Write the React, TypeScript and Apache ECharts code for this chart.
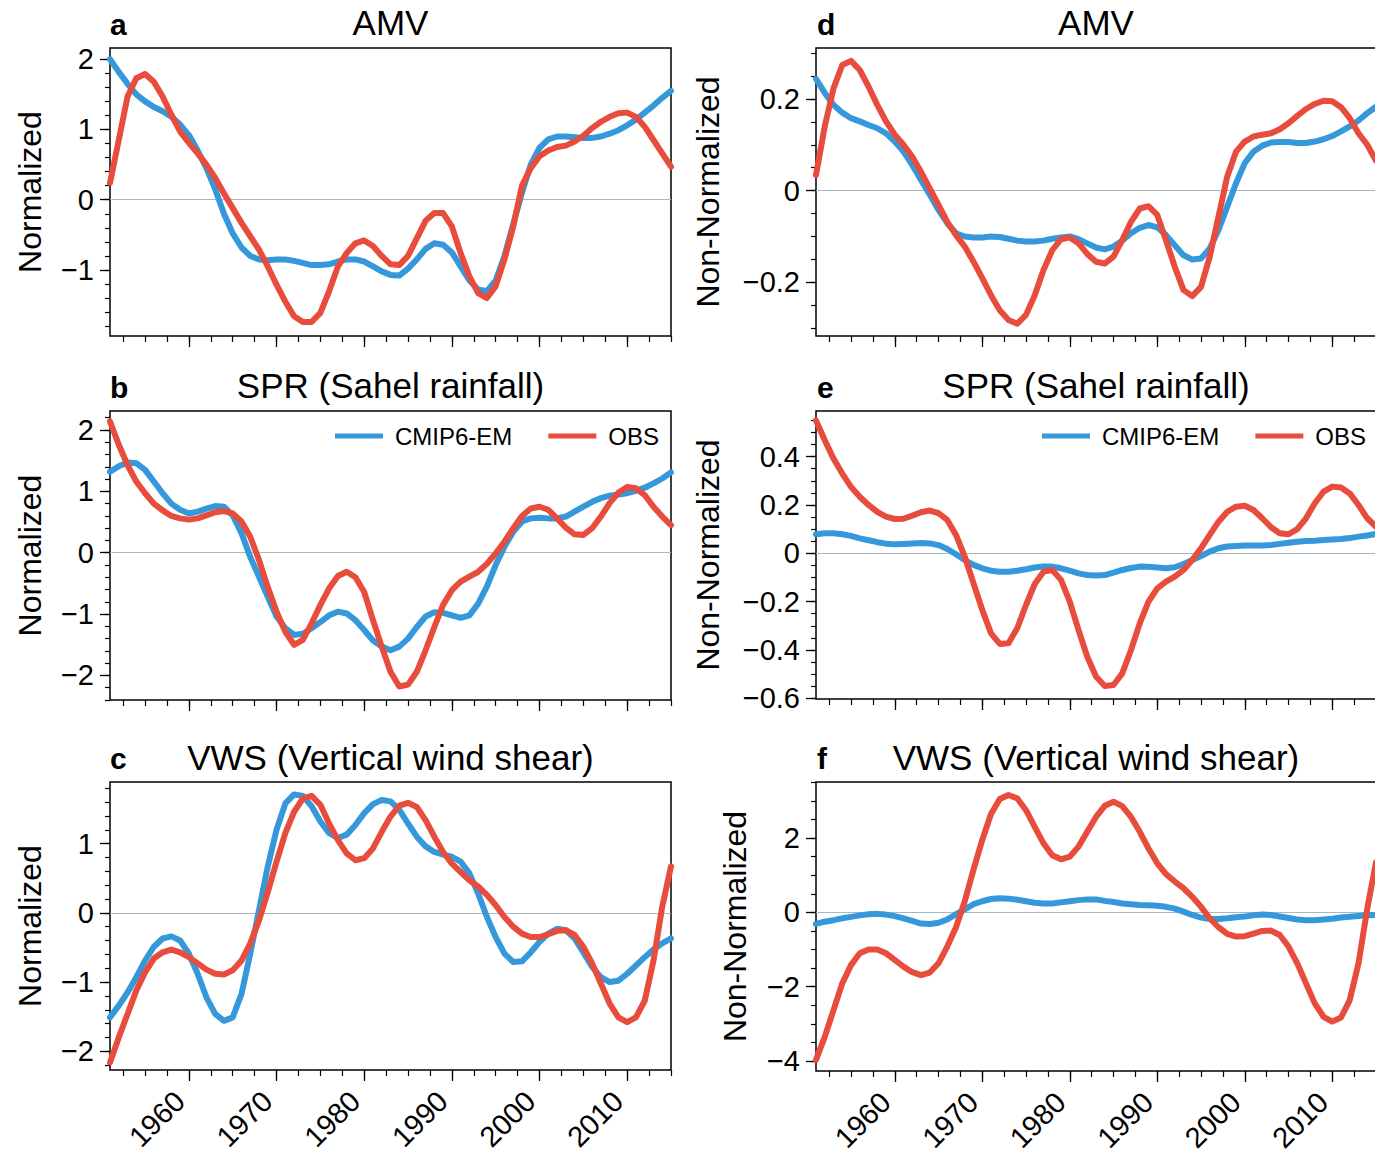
import React, { useEffect, useRef } from "react";
import * as echarts from "echarts";

const FONT = '"Liberation Sans", Arial, Helvetica, sans-serif';
const BLUE = "#3498db";
const RED = "#e74c3c";
const ZERO = "#a9b6c4";

const YEARS = [
  1951, 1952, 1953, 1954, 1955, 1956, 1957, 1958, 1959, 1960,
  1961, 1962, 1963, 1964, 1965, 1966, 1967, 1968, 1969, 1970,
  1971, 1972, 1973, 1974, 1975, 1976, 1977, 1978, 1979, 1980,
  1981, 1982, 1983, 1984, 1985, 1986, 1987, 1988, 1989, 1990,
  1991, 1992, 1993, 1994, 1995, 1996, 1997, 1998, 1999, 2000,
  2001, 2002, 2003, 2004, 2005, 2006, 2007, 2008, 2009, 2010,
  2011, 2012, 2013, 2014, 2015,
];
const X_TICKS = [1960, 1970, 1980, 1990, 2000, 2010];

// a: AMV normalized
const A_CMIP = [
  2.0, 1.82, 1.65, 1.5, 1.4, 1.32, 1.26, 1.18, 1.07, 0.92,
  0.7, 0.45, 0.15, -0.2, -0.48, -0.68, -0.8, -0.85, -0.86, -0.85,
  -0.85, -0.87, -0.9, -0.93, -0.93, -0.92, -0.88, -0.85, -0.85, -0.88,
  -0.95, -1.02, -1.07, -1.08, -0.98, -0.85, -0.7, -0.62, -0.64, -0.75,
  -0.95, -1.15, -1.28, -1.3, -1.15, -0.8, -0.35, 0.1, 0.5, 0.74,
  0.86, 0.9, 0.9, 0.89, 0.88, 0.88, 0.9, 0.94, 0.99, 1.06,
  1.14, 1.24, 1.34, 1.45, 1.55,
];
const A_OBS = [
  0.24, 0.85, 1.47, 1.73, 1.79, 1.68, 1.47, 1.21, 0.97, 0.81,
  0.66, 0.5, 0.31, 0.09, -0.12, -0.33, -0.52, -0.71, -0.95, -1.21,
  -1.45, -1.66, -1.74, -1.74, -1.61, -1.3, -0.95, -0.76, -0.62, -0.58,
  -0.66, -0.8, -0.92, -0.93, -0.8, -0.55, -0.3, -0.19, -0.19, -0.38,
  -0.76, -1.09, -1.33, -1.4, -1.23, -0.85, -0.38, 0.2, 0.45, 0.62,
  0.7, 0.75, 0.77, 0.83, 0.91, 1.02, 1.11, 1.18, 1.23, 1.24,
  1.18, 1.04, 0.85, 0.66, 0.47,
];

// b: SPR normalized
const B_CMIP = [
  1.32, 1.41, 1.47, 1.46, 1.35, 1.16, 0.97, 0.8, 0.7, 0.64,
  0.67, 0.72, 0.76, 0.75, 0.61, 0.32, -0.07, -0.39, -0.72, -1.04,
  -1.23, -1.34, -1.32, -1.23, -1.13, -1.02, -0.96, -0.99, -1.1, -1.26,
  -1.43, -1.53, -1.59, -1.53, -1.4, -1.21, -1.04, -0.97, -0.98, -1.02,
  -1.06, -1.02, -0.83, -0.55, -0.2, 0.1, 0.34, 0.51, 0.56, 0.57,
  0.56, 0.56, 0.59, 0.67, 0.75, 0.83, 0.89, 0.93, 0.95, 0.97,
  1.01, 1.06, 1.13, 1.21, 1.31,
];
const B_OBS = [
  2.14, 1.76, 1.43, 1.16, 0.97, 0.8, 0.69, 0.6, 0.56, 0.54,
  0.56, 0.61, 0.66, 0.68, 0.64, 0.51, 0.26, -0.12, -0.56, -0.96,
  -1.29, -1.5, -1.42, -1.15, -0.85, -0.58, -0.38, -0.31, -0.4, -0.64,
  -1.1, -1.53, -1.94, -2.18, -2.15, -1.94, -1.59, -1.21, -0.85, -0.61,
  -0.47, -0.39, -0.31, -0.18, -0.01, 0.18, 0.4, 0.6, 0.72, 0.75,
  0.7, 0.56, 0.41, 0.3, 0.29, 0.4, 0.59, 0.81, 0.98, 1.07,
  1.05, 0.94, 0.75, 0.59, 0.45,
];

// c: VWS normalized
const C_CMIP = [
  -1.51, -1.34, -1.15, -0.93, -0.69, -0.49, -0.37, -0.34, -0.4, -0.59,
  -0.88, -1.22, -1.46, -1.56, -1.51, -1.17, -0.59, 0.04, 0.67, 1.2,
  1.58, 1.71, 1.69, 1.54, 1.32, 1.15, 1.08, 1.13, 1.27, 1.44,
  1.57, 1.63, 1.61, 1.49, 1.29, 1.1, 0.96, 0.88, 0.84, 0.81,
  0.74, 0.57, 0.28, -0.06, -0.35, -0.59, -0.71, -0.7, -0.57, -0.42,
  -0.3, -0.23, -0.25, -0.37, -0.57, -0.78, -0.93, -1.0, -0.98, -0.88,
  -0.76, -0.64, -0.53, -0.44, -0.37,
];
const C_OBS = [
  -2.16, -1.8, -1.46, -1.12, -0.86, -0.66, -0.57, -0.53, -0.57, -0.64,
  -0.73, -0.82, -0.88, -0.89, -0.83, -0.69, -0.44, -0.11, 0.3, 0.74,
  1.15, 1.46, 1.65, 1.69, 1.56, 1.29, 1.05, 0.86, 0.76, 0.79,
  0.93, 1.17, 1.39, 1.55, 1.59, 1.53, 1.34, 1.1, 0.88, 0.71,
  0.59, 0.47, 0.38, 0.26, 0.11, -0.06, -0.2, -0.3, -0.35, -0.35,
  -0.31, -0.26, -0.25, -0.32, -0.49, -0.73, -1.02, -1.31, -1.51, -1.58,
  -1.51, -1.27, -0.69, 0.09, 0.67,
];

// d: AMV non-normalized
const D_CMIP = [
  0.244, 0.213, 0.187, 0.17, 0.158, 0.151, 0.143, 0.136, 0.125, 0.107,
  0.085, 0.056, 0.023, -0.009, -0.042, -0.071, -0.093, -0.1, -0.102, -0.102,
  -0.1, -0.101, -0.105, -0.109, -0.111, -0.111, -0.109, -0.105, -0.102, -0.1,
  -0.106, -0.115, -0.124, -0.128, -0.122, -0.109, -0.093, -0.081, -0.075, -0.08,
  -0.097, -0.119, -0.141, -0.15, -0.148, -0.126, -0.086, -0.035, 0.016, 0.06,
  0.085, 0.098, 0.105, 0.106, 0.106, 0.104, 0.104, 0.107, 0.112, 0.119,
  0.129, 0.14, 0.153, 0.169, 0.183,
];
const D_OBS = [
  0.034, 0.14, 0.223, 0.274, 0.283, 0.263, 0.227, 0.187, 0.151, 0.122,
  0.1, 0.074, 0.041, 0.005, -0.031, -0.068, -0.097, -0.122, -0.155, -0.191,
  -0.228, -0.261, -0.282, -0.29, -0.271, -0.228, -0.173, -0.13, -0.106, -0.102,
  -0.115, -0.138, -0.155, -0.159, -0.144, -0.108, -0.068, -0.039, -0.034, -0.053,
  -0.108, -0.166, -0.217, -0.23, -0.21, -0.144, -0.057, 0.031, 0.085, 0.107,
  0.118, 0.122, 0.125, 0.134, 0.147, 0.163, 0.178, 0.189, 0.196, 0.195,
  0.182, 0.158, 0.125, 0.1, 0.065,
];

// e: SPR non-normalized
const E_CMIP = [
  0.079, 0.083, 0.083, 0.079, 0.072, 0.062, 0.054, 0.046, 0.04, 0.037,
  0.039, 0.041, 0.043, 0.041, 0.034, 0.018, -0.004, -0.028, -0.048, -0.062,
  -0.072, -0.076, -0.076, -0.072, -0.066, -0.059, -0.055, -0.055, -0.062, -0.072,
  -0.083, -0.09, -0.092, -0.09, -0.08, -0.069, -0.061, -0.055, -0.056, -0.059,
  -0.062, -0.058, -0.044, -0.028, -0.011, 0.007, 0.021, 0.028, 0.03, 0.032,
  0.032, 0.032, 0.034, 0.039, 0.044, 0.048, 0.051, 0.052, 0.055, 0.057,
  0.059, 0.063, 0.069, 0.074, 0.08,
];
const E_OBS = [
  0.55, 0.468, 0.392, 0.33, 0.275, 0.234, 0.2, 0.172, 0.152, 0.142,
  0.143, 0.156, 0.17, 0.177, 0.166, 0.138, 0.076, -0.014, -0.124, -0.234,
  -0.331, -0.375, -0.372, -0.31, -0.214, -0.127, -0.076, -0.069, -0.11, -0.2,
  -0.317, -0.428, -0.51, -0.549, -0.545, -0.497, -0.4, -0.29, -0.2, -0.145,
  -0.117, -0.097, -0.069, -0.028, 0.021, 0.076, 0.131, 0.172, 0.193, 0.197,
  0.179, 0.145, 0.108, 0.083, 0.079, 0.1, 0.145, 0.207, 0.255, 0.276,
  0.272, 0.248, 0.2, 0.145, 0.11,
];

// f: VWS non-normalized
const F_CMIP = [
  -0.31, -0.25, -0.21, -0.16, -0.12, -0.08, -0.05, -0.04, -0.06, -0.1,
  -0.16, -0.23, -0.3, -0.31, -0.28, -0.19, -0.05, 0.08, 0.22, 0.3,
  0.36, 0.38, 0.37, 0.34, 0.3, 0.26, 0.24, 0.24, 0.27, 0.3,
  0.33, 0.35, 0.35, 0.31, 0.28, 0.24, 0.22, 0.2, 0.19, 0.18,
  0.15, 0.1, 0.02, -0.07, -0.14, -0.18, -0.18, -0.16, -0.13, -0.11,
  -0.08, -0.06, -0.07, -0.11, -0.15, -0.19, -0.21, -0.21, -0.19, -0.17,
  -0.14, -0.12, -0.1, -0.08, -0.07,
];
const F_OBS = [
  -3.97, -3.35, -2.63, -1.91, -1.42, -1.1, -1.0, -1.0, -1.1, -1.28,
  -1.46, -1.61, -1.69, -1.62, -1.37, -0.92, -0.4, 0.3, 1.15, 1.95,
  2.65, 3.05, 3.16, 3.07, 2.75, 2.3, 1.86, 1.54, 1.43, 1.5,
  1.77, 2.17, 2.57, 2.87, 2.98, 2.86, 2.57, 2.17, 1.72, 1.32,
  1.03, 0.83, 0.65, 0.42, 0.15, -0.16, -0.4, -0.58, -0.65, -0.64,
  -0.57, -0.5, -0.49, -0.61, -0.92, -1.37, -1.91, -2.45, -2.81, -2.94,
  -2.83, -2.36, -1.37, 0.1, 1.35,
];

const Y_TICKS_A = [-1, 0, 1, 2];
const Y_TICKS_B = [-2, -1, 0, 1, 2];
const Y_TICKS_C = [-2, -1, 0, 1];
const Y_TICKS_D = [-0.2, 0, 0.2];
const Y_TICKS_E = [-0.6, -0.4, -0.2, 0, 0.2, 0.4];
const Y_TICKS_F = [-4, -2, 0, 2];

const LEGEND_NAMES = ["CMIP6-EM", "OBS"];

function steps(lo: number, hi: number, step: number): number[] {
  const out: number[] = [];
  const n = Math.round((hi - lo) / step);
  for (let k = 0; k <= n; k++) out.push(+(lo + k * step).toFixed(4));
  return out;
}

const fmt = (v: number) => {
  const r = +Number(v).toFixed(4);
  return r < 0 ? "\u2212" + String(Math.abs(r)) : String(r);
};

type Panel = {
  letter: string;
  title: string;
  yName: string;
  left: number;
  top: number;
  width: number;
  height: number;
  ymin: number;
  ymax: number;
  major: number[];
  minorLo: number;
  minorHi: number;
  minorStep: number;
  cmip: number[];
  obs: number[];
  xLabels: boolean;
  yNameX: number;
};

const PANELS: Panel[] = [
  { letter: "a", title: "AMV", yName: "Normalized", left: 110, top: 48, width: 561, height: 288, ymin: -1.94, ymax: 2.16, major: Y_TICKS_A, minorLo: -1.8, minorHi: 2.0, minorStep: 0.2, cmip: A_CMIP, obs: A_OBS, xLabels: false, yNameX: 29.5 },
  { letter: "b", title: "SPR (Sahel rainfall)", yName: "Normalized", left: 110, top: 411, width: 561, height: 289, ymin: -2.4, ymax: 2.31, major: Y_TICKS_B, minorLo: -2.4, minorHi: 2.2, minorStep: 0.2, cmip: B_CMIP, obs: B_OBS, xLabels: false, yNameX: 29.5 },
  { letter: "c", title: "VWS (Vertical wind shear)", yName: "Normalized", left: 110, top: 782, width: 561, height: 288, ymin: -2.27, ymax: 1.89, major: Y_TICKS_C, minorLo: -2.2, minorHi: 1.8, minorStep: 0.2, cmip: C_CMIP, obs: C_OBS, xLabels: true, yNameX: 29.5 },
  { letter: "d", title: "AMV", yName: "Non-Normalized", left: 816, top: 48, width: 560, height: 288, ymin: -0.317, ymax: 0.311, major: Y_TICKS_D, minorLo: -0.3, minorHi: 0.3, minorStep: 0.05, cmip: D_CMIP, obs: D_OBS, xLabels: false, yNameX: 708 },
  { letter: "e", title: "SPR (Sahel rainfall)", yName: "Non-Normalized", left: 816, top: 411, width: 560, height: 288, ymin: -0.603, ymax: 0.589, major: Y_TICKS_E, minorLo: -0.6, minorHi: 0.55, minorStep: 0.05, cmip: E_CMIP, obs: E_OBS, xLabels: false, yNameX: 708 },
  { letter: "f", title: "VWS (Vertical wind shear)", yName: "Non-Normalized", left: 816, top: 782, width: 560, height: 289, ymin: -4.27, ymax: 3.51, major: Y_TICKS_F, minorLo: -4, minorHi: 3.5, minorStep: 0.5, cmip: F_CMIP, obs: F_OBS, xLabels: true, yNameX: 735 },
];

function textEl(text: string, x: number, y: number, size: number, opts: any = {}) {
  const align = opts.align || "center";
  return {
    type: "text",
    x,
    y,
    rotation: opts.rotation || 0,
    silent: true,
    style: {
      text,
      fill: "#000",
      fontSize: size,
      fontFamily: FONT,
      fontWeight: opts.weight || "normal",
      textAlign: align,
      align,
      textVerticalAlign: "middle",
      verticalAlign: "middle",
    },
  };
}

function buildOption() {
  const grid: any[] = [];
  const xAxis: any[] = [];
  const yAxis: any[] = [];
  const series: any[] = [];
  const graphic: any[] = [];
  const xMinor = steps(1952.5, 2015, 2.5);

  PANELS.forEach((p, i) => {
    grid.push({
      left: p.left,
      top: p.top,
      width: p.width,
      height: p.height,
      show: true,
      borderColor: "#000",
      borderWidth: 1.5,
      backgroundColor: "transparent",
      containLabel: false,
      outerBoundsMode: "none",
    });
    const baseX = {
      type: "value",
      gridIndex: i,
      min: 1951,
      max: 2015,
      position: "bottom",
      offset: 0,
      axisLine: { show: false, onZero: false },
      splitLine: { show: false },
      minorTick: { show: false },
    };
    xAxis.push({
      ...baseX,
      axisTick: { show: true, length: 11, lineStyle: { color: "#000", width: 1.3 }, customValues: X_TICKS },
      axisLabel: {
        show: p.xLabels,
        customValues: X_TICKS,
        rotate: 45,
        margin: 17,
        padding: [0, 13, 0, 0],
        fontSize: 29,
        fontFamily: FONT,
        color: "#000",
        formatter: (v: number) => String(v),
      },
    });
    xAxis.push({
      ...baseX,
      axisTick: { show: true, length: 6, lineStyle: { color: "#000", width: 1.2 }, customValues: xMinor },
      axisLabel: { show: false },
    });
    const baseY = {
      type: "value",
      gridIndex: i,
      min: p.ymin,
      max: p.ymax,
      position: "left",
      offset: 0,
      axisLine: { show: false, onZero: false },
      splitLine: { show: false },
      minorTick: { show: false },
    };
    yAxis.push({
      ...baseY,
      axisTick: { show: true, length: 10, lineStyle: { color: "#000", width: 1.3 }, customValues: p.major },
      axisLabel: {
        show: true,
        customValues: p.major,
        margin: 16,
        fontSize: 29,
        fontFamily: FONT,
        color: "#000",
        formatter: fmt,
      },
    });
    yAxis.push({
      ...baseY,
      axisTick: { show: true, length: 5, lineStyle: { color: "#000", width: 1.2 }, customValues: steps(p.minorLo, p.minorHi, p.minorStep) },
      axisLabel: { show: false },
    });

    series.push({
      type: "line",
      name: "CMIP6-EM",
      xAxisIndex: 2 * i,
      yAxisIndex: 2 * i,
      data: YEARS.map((yr, k) => [yr, p.cmip[k]]),
      showSymbol: false,
      symbol: "none",
      lineStyle: { color: BLUE, width: 6, cap: "round", join: "round" },
      itemStyle: { color: BLUE },
      z: 3,
      silent: true,
      markLine: {
        silent: true,
        symbol: ["none", "none"],
        label: { show: false },
        lineStyle: { color: ZERO, width: 1.2, type: "solid" },
        data: [{ yAxis: 0 }],
        z: 1,
      },
    });
    series.push({
      type: "line",
      name: "OBS",
      xAxisIndex: 2 * i,
      yAxisIndex: 2 * i,
      data: YEARS.map((yr, k) => [yr, p.obs[k]]),
      showSymbol: false,
      symbol: "none",
      lineStyle: { color: RED, width: 6, cap: "round", join: "round" },
      itemStyle: { color: RED },
      z: 4,
      silent: true,
    });

    const cx = p.left + p.width / 2;
    const row = i % 3;
    const titleY = [22, 385, 757][row];
    const letterY = [24, 387, 758][row];
    const letterX = p.left < 500 ? 110 : 817;
    graphic.push(textEl(p.title, cx, titleY, 35));
    graphic.push(textEl(p.letter, letterX, letterY, 30, { align: "left", weight: "bold" }));
    graphic.push(textEl(p.yName, p.yNameX, p.top + p.height / 2, 32, { rotation: Math.PI / 2 }));
  });

  const legendBase = {
    show: true,
    data: LEGEND_NAMES,
    icon: "rect",
    itemWidth: 48,
    itemHeight: 5,
    itemGap: 36,
    width: 500,
    selectedMode: false,
    orient: "horizontal",
    textStyle: { fontSize: 24, fontFamily: FONT, color: "#000", padding: [0, 0, 0, 7] },
  };

  return {
    animation: false,
    backgroundColor: "#fff",
    grid,
    xAxis,
    yAxis,
    series,
    graphic,
    legend: [
      { ...legendBase, left: 330, top: 419 },
      { ...legendBase, left: 1037, top: 419 },
    ],
  };
}

export default function App() {
  const ref = useRef<HTMLDivElement | null>(null);
  useEffect(() => {
    if (!ref.current) return;
    const chart = echarts.init(ref.current, null, { renderer: "svg" });
    chart.setOption(buildOption() as any);
    return () => chart.dispose();
  }, []);
  return (
    <div
      ref={ref}
      style={{ position: "absolute", left: 0, top: 0, width: 1375, height: 1155, background: "#fff" }}
    />
  );
}
